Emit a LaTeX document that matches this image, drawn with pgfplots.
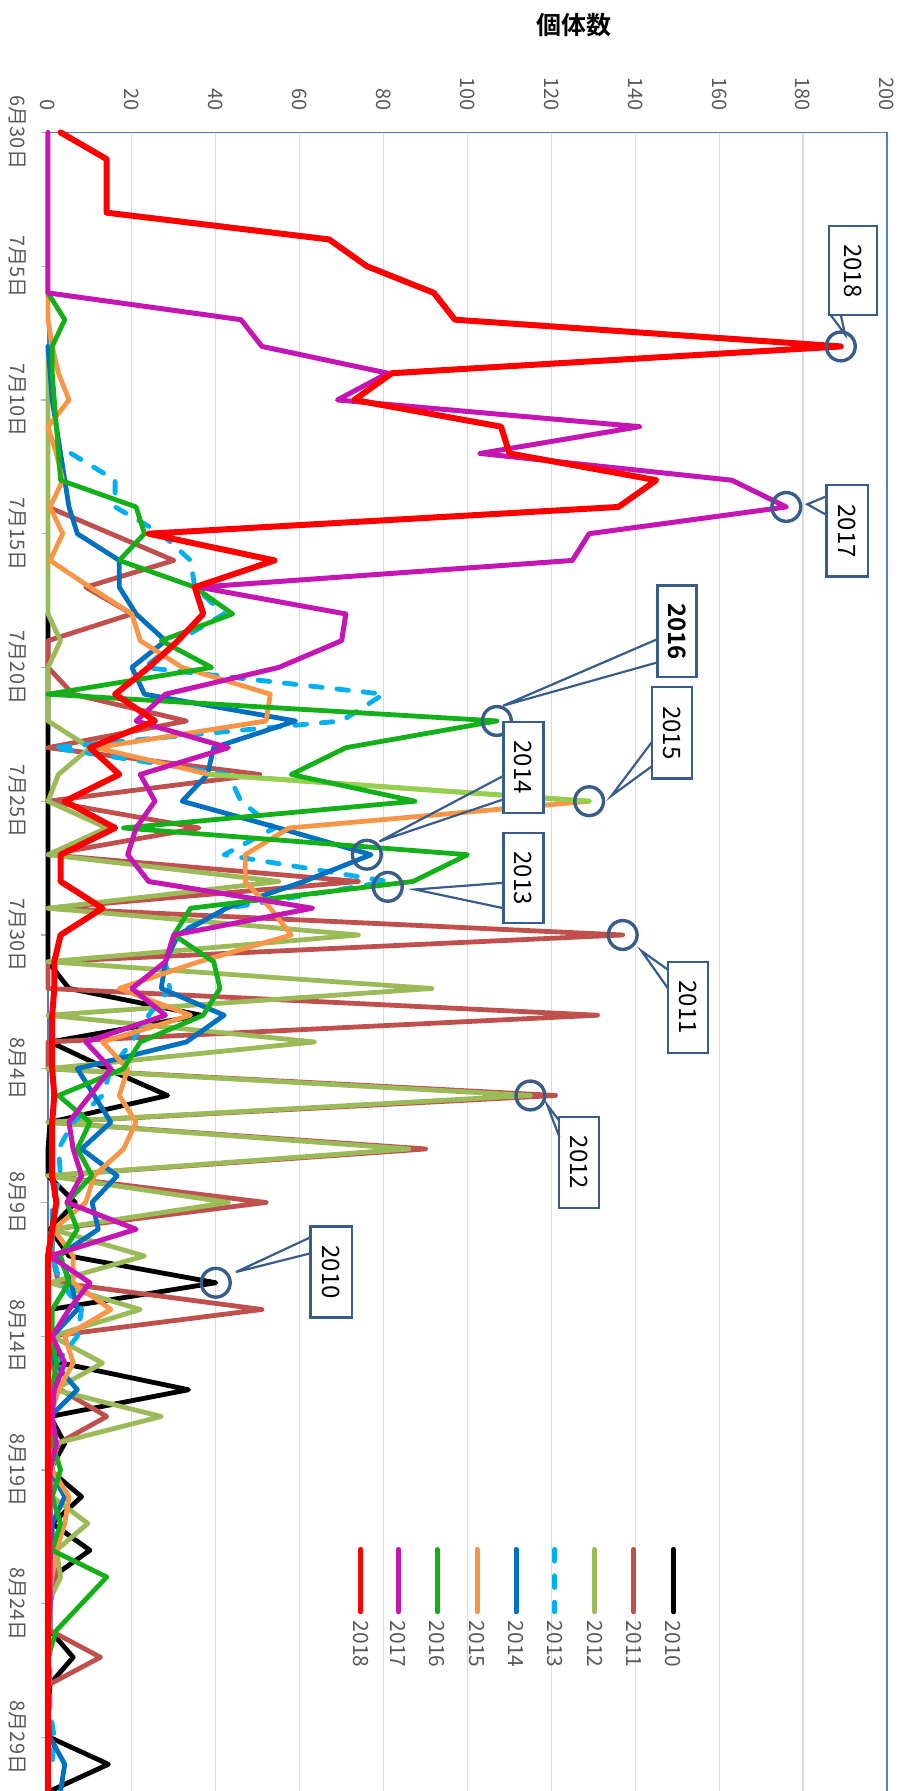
\documentclass[border=0pt]{standalone}
\usepackage{fontspec}
\setmainfont{Noto Sans CJK JP}[BoldFont={Noto Sans CJK JP Bold}]
\usepackage{pgfplots}
\pgfplotsset{compat=1.18}
\definecolor{cA}{RGB}{0,0,0}
\definecolor{cB}{RGB}{192,80,77}
\definecolor{cC}{RGB}{155,187,89}
\definecolor{cD}{RGB}{0,176,240}
\definecolor{cE}{RGB}{0,112,192}
\definecolor{cF}{RGB}{247,150,70}
\definecolor{cG}{RGB}{20,176,25}
\definecolor{cH}{RGB}{197,22,180}
\definecolor{cI}{RGB}{255,0,0}
\definecolor{cJ}{RGB}{146,208,80}
\definecolor{cbox}{RGB}{56,93,138}
\definecolor{cframe}{RGB}{79,129,189}
\definecolor{labgray}{RGB}{89,89,89}
\tikzset{
  cbx/.style={draw=cbox, line width=1.1pt, fill=white},
  cwedge/.style={draw=cbox, line width=1.1pt},
  ccirc/.style={draw=cbox, line width=1.7pt},
  ctext/.style={rotate=-90, font=\fontsize{12}{14}\selectfont, text=black},
  legtext/.style={rotate=-90, anchor=west, font=\fontsize{10.5}{12}\selectfont, text=labgray, inner sep=1pt},
  legline/.style={line width=2.5pt, line cap=round},
}
\begin{document}
\begin{tikzpicture}
\begin{axis}[
  scale only axis, width=419.5pt, height=829.3pt,
  xmin=0, xmax=200, ymin=0, ymax=62, y dir=reverse,
  clip=false,
  axis line style={draw=none},
  xtick={0,20,...,200},
  xmajorgrids,
  grid style={draw=gray!30, line width=0.6pt},
  xticklabel pos=upper,
  xtick style={draw=none},
  xticklabel style={rotate=-90, anchor=east, font=\fontsize{10}{12}\selectfont, text=labgray},
  xticklabel shift=4pt,
  ytick={0,5,...,60},
  yticklabels={6月30日,7月5日,7月10日,7月15日,7月20日,7月25日,7月30日,8月4日,8月9日,8月14日,8月19日,8月24日,8月29日},
  ytick pos=left,
  ytick style={draw=gray!60, line width=0.6pt},
  tick align=outside, major tick length=3.5pt,
  yticklabel style={rotate=-90, anchor=north, font=\fontsize{10}{12}\selectfont, text=labgray},
  yticklabel shift=4pt,
  /pgf/number format/assume math mode=true,
  every axis plot/.append style={line join=round, line cap=round},
]
% frame
\draw[cframe, line width=0.9pt] (axis cs:0,62) -- (axis cs:0,0) -- (axis cs:200,0) -- (axis cs:200,62);

% 2010
\addplot[cA, line width=2.4pt] coordinates {
(0,18)(0,19)(0,20)(0,21)(0,22)(0,23)(0,24)(0,25)(0,26)(0,27)(0,28)(0,29)(0,30)(0,31)
(5,32)(36.5,33)(0.5,34)(14,35)(28.5,36)(0.5,37)(0,38)(0,39)(6.5,40)(0.5,41)(5,42)(40,43)
(0.5,44)(0,45)(3,46)(33.5,47)(0.5,48)(4,49)(0.5,50)(8,51)(1,52)(10,53)(1,54)(0.5,55)
(0.5,56)(6,57)(0.5,58)(0,59)(0.5,60)(14.4,61)(0.5,62)};
% 2011
\addplot[cB, line width=2.4pt] coordinates {
(0,14)(15,15)(30,16)(9,17)(20,18)(0,19)(0,20)(6,21)(33,22)(0,23)(50.5,24)(0,25)(36,26)(0,27)
(74,28)(0,29)(137,30)(0,31)(0,32)(131,33)(0,34)(0,35)(121,36)(0,37)(90,38)(0,39)(52,40)
(1,41)(1,42)(2.5,43)(51,44)(0.5,45)(1,46)(3,47)(14,48)(2.5,49)(0.5,50)(0.5,51)(0.5,52)
(0.5,53)(2,54)(0.5,55)(0.5,56)(12.5,57)(0.5,58)};
% 2012
\addplot[cC, line width=2.4pt] coordinates {
(0,8)(0,9)(0,10)(0,11)(0,12)(0,13)(0,14)(0,15)(0,16)(0,17)(0,18)(3,19)(0,20)(0,21)(0,22)
(10,23)(2.5,24)(0,25)(14,26)(0,27)(55,28)(0,29)(74,30)(0,31)(91.5,32)(0,33)(63.5,34)
(0,35)(115,36)(0,37)(86,38)(0,39)(43,40)(1,41)(23,42)(0.5,43)(22,44)(1,45)(13,46)(1.5,47)
(27,48)(2,49)(1,50)(1,51)(9.5,52)(2,53)(3,54)(0,55)};
% 2013
\addplot[cD, line width=2.4pt, dash pattern=on 5.8pt off 7.4pt] coordinates {
(5.5,12)(16,13)(16,14)(27,15)(34,16)(35,17)(42,18)(31,19)(23,20)(80,21)(70,22)(1,23)
(43,24)(46,25)(54,26)(42,27)(81,28)(43,29)(30,30)(28,31)(29,32)(24,33)(20,34)(15,35)
(13,36)(6,37)(2.5,38)(3,39)(1,40)(1,41)(1,42)(3,43)(8,44)(7,45)(2,46)(1,47)(0.5,48)
(0.5,49)(0.5,50)(0.5,51)(0.5,52)(0.5,53)(0.5,54)(0.5,55)(0.5,56)(0.5,57)(0.5,58)(0.5,59)
(1.5,60)(1,61)};
% 2014
\addplot[cE, line width=2.4pt] coordinates {
(0,8)(0.5,9)(1,10)(2,11)(3,12)(4,13)(5,14)(7,15)(17,16)(17,17)(21,18)(28,19)(20,20)(23,21)
(59,22)(39.5,23)(38,24)(32,25)(55,26)(77,27)(61,28)(42.5,29)(31,30)(28,31)(27,32)(42,33)(33,34)
(7,35)(11,36)(15,37)(8,38)(16.5,39)(10.5,40)(12,41)(2.5,42)(5.5,43)(7,44)(1,45)(1.5,46)
(7,47)(0.5,48)(1.5,49)(0.5,50)(4,51)(1,52)(1,53)(0.5,54)(0.5,55)(0,56)(0,57)(0,58)(0,59)
(0.5,60)(4,61)(3,62)};
% 2015
\addplot[cF, line width=2.4pt] coordinates {
(0,6)(0,7)(1,8)(2.5,9)(5,10)(0,11)(2,12)(3.5,13)(0.5,14)(3.5,15)(0.5,16)(10,17)(20,18)
(22,19)(32,20)(53,21)(52,22)(11.5,23)(38.5,24)(129,25)(57.5,26)(47,27)(47,28)(53,29)(58,30)
(36,31)(17,32)(34,33)(13,34)(19,35)(17,36)(21,37)(18,38)(11,39)(9,40)(1.3,41)(6,42)(6,43)
(15,44)(4,45)(6,46)(2.5,47)(0.5,48)(1,49)(1,50)(5,51)(4,52)(2,53)(1,54)(0,55)};
\addplot[cJ, line width=2.4pt] coordinates {(38.5,24)(129,25)};
% 2016
\addplot[cG, line width=2.4pt] coordinates {
(0,6)(4,7)(1,8)(1,9)(1.5,10)(2,11)(2.5,12)(3,13)(21,14)(23,15)(17,16)(35,17)(44,18)(27,19)
(39,20)(0,21)(107,22)(71,23)(58,24)(87.5,25)(18,26)(100,27)(87,28)(34,29)(30,30)(39.5,31)(41,32)
(37,33)(22,34)(18,35)(2.5,36)(10,37)(7,38)(10.5,39)(4.5,40)(7,41)(3,42)(5,43)(1,44)(1,45)
(2,46)(1,47)(0.5,48)(1,49)(3,50)(1,51)(3,52)(1,53)(14,54)(8,55)(2,56)(0,57)};
% 2017
\addplot[cH, line width=2.5pt] coordinates {
(0,0)(0,1)(0,2)(0,3)(0,4)(0,5)(0,6)(46,7)(51,8)(81,9)(69,10)(141,11)(103,12)(163,13)(176,14)
(129,15)(125,16)(36,17)(71,18)(70,19)(55,20)(28,21)(21,22)(43,23)(22,24)(25.5,25)(21,26)(19,27)
(24,28)(63,29)(30,30)(28,31)(20,32)(28,33)(9,34)(15,35)(10,36)(5,37)(6,38)(8,39)(4.5,40)
(21,41)(0.5,42)(10,43)(5,44)(1,45)(4,46)(1.5,47)(1,48)(2,49)(0.5,50)(0.5,51)(0.5,52)(0.5,53)
(0.5,54)(0.5,55)(0,56)};
% 2018
\addplot[cI, line width=3.0pt] coordinates {
(3,0)(14,1)(14,2)(14,3)(67,4)(76,5)(92,6)(97,7)(189,8)(82,9)(73,10)(108,11)(110,12)(145,13)
(136,14)(24,15)(54,16)(35,17)(37,18)(31,19)(24,20)(16,21)(25.5,22)(10,23)(17,24)(4,25)(16,26)
(3,27)(3,28)(13,29)(3,30)(1.5,31)(1.5,32)(1,33)(1,34)(1,35)(1.5,36)(1,37)(1,38)(1,39)(2,40)
(1,41)(0,42)(0,43)(0,44)(0,45)(0,46)(0,47)(0,48)(0,49)(0,50)(0,51)(0,52)(0,53)(0,54)(0,55)
(0,56)(0,57)(0,58)(0,59)(0,60)(0,61)(0,62)};

% legend
\draw[cI, legline] (axis cs:74.6,52.97) -- (axis cs:74.6,55.3);
\node[legtext] at (axis cs:74.6,55.55) {2018};
\draw[cH, legline] (axis cs:83.5,52.97) -- (axis cs:83.5,55.3);
\node[legtext] at (axis cs:83.5,55.55) {2017};
\draw[cG, legline] (axis cs:92.8,52.97) -- (axis cs:92.8,55.3);
\node[legtext] at (axis cs:92.8,55.55) {2016};
\draw[cF, legline] (axis cs:102.3,52.97) -- (axis cs:102.3,55.3);
\node[legtext] at (axis cs:102.3,55.55) {2015};
\draw[cE, legline] (axis cs:111.6,52.97) -- (axis cs:111.6,55.3);
\node[legtext] at (axis cs:111.6,55.55) {2014};
\draw[cD, legline, dash pattern=on 5.8pt off 7.4pt] (axis cs:120.8,52.97) -- (axis cs:120.8,55.3);
\node[legtext] at (axis cs:120.8,55.55) {2013};
\draw[cC, legline] (axis cs:130.3,52.97) -- (axis cs:130.3,55.3);
\node[legtext] at (axis cs:130.3,55.55) {2012};
\draw[cB, legline] (axis cs:139.6,52.97) -- (axis cs:139.6,55.3);
\node[legtext] at (axis cs:139.6,55.55) {2011};
\draw[cA, legline] (axis cs:149.1,52.97) -- (axis cs:149.1,55.3);
\node[legtext] at (axis cs:149.1,55.55) {2010};

% callouts: circles
\draw[ccirc] (axis cs:189,8) circle[radius=7.2pt];
\draw[ccirc] (axis cs:176,14) circle[radius=7.2pt];
\draw[ccirc] (axis cs:107,22) circle[radius=7.2pt];
\draw[ccirc] (axis cs:129,25) circle[radius=7.2pt];
\draw[ccirc] (axis cs:76,27) circle[radius=7.2pt];
\draw[ccirc] (axis cs:81,28.2) circle[radius=7.2pt];
\draw[ccirc] (axis cs:137,30) circle[radius=7.2pt];
\draw[ccirc] (axis cs:115,36) circle[radius=7.2pt];
\draw[ccirc] (axis cs:40,43) circle[radius=7.2pt];
% boxes
\draw[cbx] (axis cs:186.1,3.5) rectangle (axis cs:197.6,6.83);
\draw[cwedge] (axis cs:186.6,6.83) -- (axis cs:190,7.55) -- (axis cs:189,6.83);
\node[ctext] at (axis cs:191.85,5.17) {2018};
\draw[cbx] (axis cs:185.6,13.19) rectangle (axis cs:195.4,16.6);
\draw[cwedge] (axis cs:185.6,13.6) -- (axis cs:181,13.9) -- (axis cs:185.6,14.3);
\node[ctext] at (axis cs:190.5,14.9) {2017};
\draw[cbx] (axis cs:145.3,16.94) rectangle (axis cs:154.6,20.37);
\draw[cwedge] (axis cs:145.3,18.94) -- (axis cs:108.5,21.43) -- (axis cs:145.3,19.81);
\node[ctext, font=\bfseries\fontsize{12}{14}\selectfont] at (axis cs:149.95,18.65) {2016};
\draw[cbx] (axis cs:143.9,20.74) rectangle (axis cs:153.5,24.15);
\draw[cwedge] (axis cs:143.9,22.8) -- (axis cs:134.3,24.8) -- (axis cs:143.9,23.7);
\node[ctext] at (axis cs:148.7,22.45) {2015};
\draw[cbx] (axis cs:108.6,22.03) rectangle (axis cs:118.1,25.43);
\draw[cwedge] (axis cs:108.6,24.05) -- (axis cs:79,26.5) -- (axis cs:108.6,24.93);
\node[ctext] at (axis cs:113.35,23.73) {2014};
\draw[cbx] (axis cs:108.6,26.2) rectangle (axis cs:118.1,29.55);
\draw[cwedge] (axis cs:108.6,28.05) -- (axis cs:87.5,28.3) -- (axis cs:108.6,29.0);
\node[ctext] at (axis cs:113.35,27.88) {2013};
\draw[cbx] (axis cs:147.8,31.0) rectangle (axis cs:157.3,34.4);
\draw[cwedge] (axis cs:147.8,31.3) -- (axis cs:141.5,30.6) -- (axis cs:147.8,32.0);
\node[ctext] at (axis cs:152.55,32.7) {2011};
\draw[cbx] (axis cs:121.9,36.8) rectangle (axis cs:131.4,40.2);
\draw[cwedge] (axis cs:121.9,36.95) -- (axis cs:119,36.35) -- (axis cs:121.9,37.55);
\node[ctext] at (axis cs:126.65,38.5) {2012};
\draw[cbx] (axis cs:62.6,40.9) rectangle (axis cs:72.4,44.3);
\draw[cwedge] (axis cs:62.6,41.3) -- (axis cs:44.8,42.6) -- (axis cs:62.6,41.9);
\node[ctext] at (axis cs:67.5,42.6) {2010};

% title
\node[font=\bfseries\fontsize{12.5}{15}\selectfont] at (axis cs:125.4,-4.01) {個体数};

\coordinate (PTL) at (axis cs:-11.44,-4.95);
\coordinate (PBR) at (axis cs:203.8,62);
\end{axis}
\pgfresetboundingbox
\path[use as bounding box] (PTL) rectangle (PBR);
\end{tikzpicture}
\end{document}
